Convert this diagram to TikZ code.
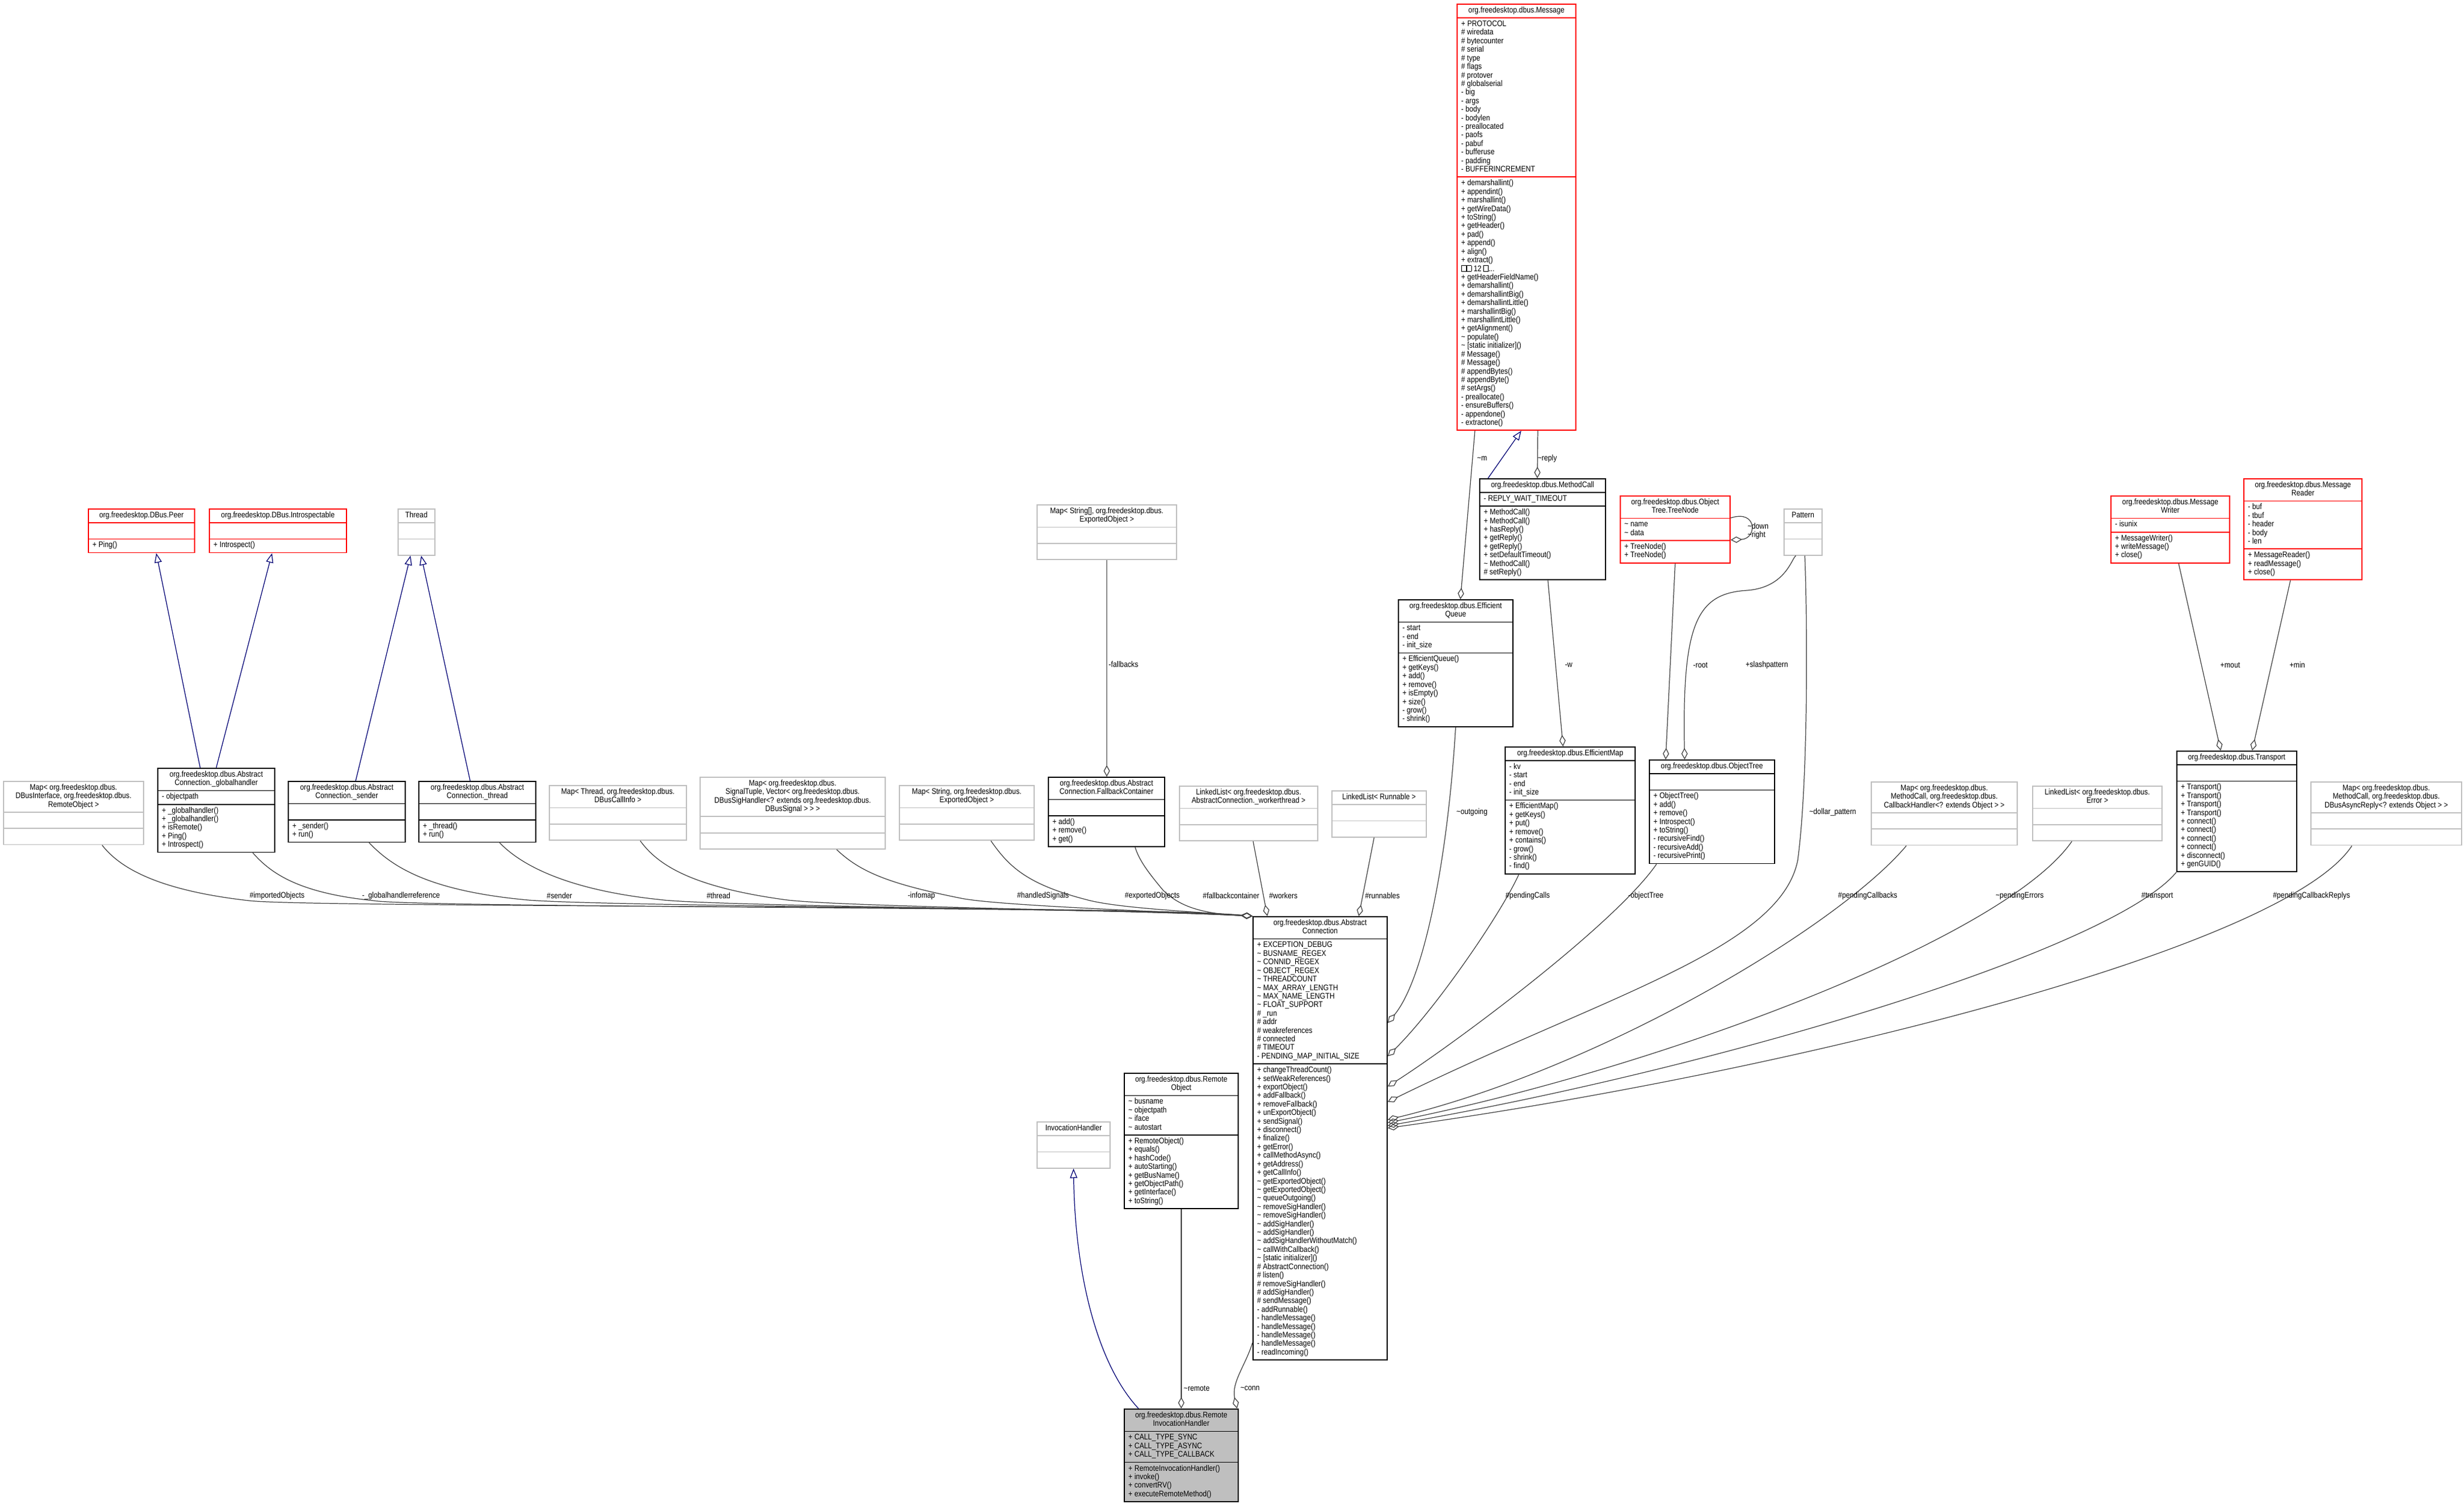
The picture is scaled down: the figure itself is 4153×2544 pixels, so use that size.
\documentclass[tikz,border=0pt]{standalone}
\usepackage{fontspec}
\setmainfont[FakeStretch=0.86]{Liberation Sans}
\usetikzlibrary{shapes.multipart,arrows.meta}

\newcommand{\ctab}[1]{\begin{tabular}{@{}c@{}}#1\end{tabular}}
\newcommand{\ltab}[1]{\begin{tabular}{@{}l@{}}#1\end{tabular}}
\newcommand{\tld}{\textasciitilde}
\newcommand{\gly}{{\fboxsep=0pt\fboxrule=0.15pt\fbox{\phantom{\rule{2.2pt}{2.6pt}}}}}

\tikzstyle{bS}=[rectangle split, rectangle split parts=3, rectangle split part align={center,left,left},
  rectangle split empty part height=0.13cm, anchor=north west, inner xsep=0.07cm, inner ysep=0.035cm,
  line width=0.5pt, font=\fontsize{3.9}{4.1}\selectfont]
\tikzstyle{cS}=[bS,draw=black]
\tikzstyle{xS}=[bS,draw=black!25]
\tikzstyle{rS}=[bS,draw=red]
\tikzstyle{hS}=[bS,draw=black,fill=black!25]
\tikzstyle{aS}=[line width=0.35pt,draw=black!75,{Diamond[open,length=5.5pt,width=3pt]}-]
\tikzstyle{iS}=[line width=0.35pt,draw=blue!45!black,-{Triangle[open,length=4.5pt,width=3.5pt]}]
\tikzstyle{lS}=[inner sep=0pt,font=\fontsize{3.9}{4.1}\selectfont]

\begin{document}
\begin{tikzpicture}[x=0.01cm,y=-0.01cm]
\useasboundingbox (0,0) rectangle (4153,2544);
% classes
\node[rS,minimum width=2.00cm] (msg) at (2455,6) {\ctab{org.freedesktop.dbus.Message}\nodepart{two}\ltab{+ PROTOCOL\\\# wiredata\\\# bytecounter\\\# serial\\\# type\\\# flags\\\# protover\\\# globalserial\\- big\\- args\\- body\\- bodylen\\- preallocated\\- paofs\\- pabuf\\- bufferuse\\- padding\\- BUFFERINCREMENT}\nodepart{three}\ltab{+ demarshallint()\\+ appendint()\\+ marshallint()\\+ getWireData()\\+ toString()\\+ getHeader()\\+ pad()\\+ append()\\+ align()\\+ extract()\\\gly\gly{} 12 \gly...\\+ getHeaderFieldName()\\+ demarshallint()\\+ demarshallintBig()\\+ demarshallintLittle()\\+ marshallintBig()\\+ marshallintLittle()\\+ getAlignment()\\\tld{} populate()\\\tld{} [static initializer]()\\\# Message()\\\# Message()\\\# appendBytes()\\\# appendByte()\\\# setArgs()\\- preallocate()\\- ensureBuffers()\\- appendone()\\- extractone()}};
\node[cS,minimum width=2.12cm] (mcall) at (2493,806) {\ctab{org.freedesktop.dbus.MethodCall}\nodepart{two}\ltab{- REPLY\_WAIT\_TIMEOUT}\nodepart{three}\ltab{+ MethodCall()\\+ MethodCall()\\+ hasReply()\\+ getReply()\\+ getReply()\\+ setDefaultTimeout()\\\tld{} MethodCall()\\\# setReply()}};
\node[rS,minimum width=1.85cm] (tnode) at (2730,835) {\ctab{org.freedesktop.dbus.Object\\Tree.TreeNode}\nodepart{two}\ltab{\tld{} name\\\tld{} data}\nodepart{three}\ltab{+ TreeNode()\\+ TreeNode()}};
\node[xS,minimum width=0.64cm] (pattern) at (3006,857) {\ctab{Pattern}\nodepart{two}\nodepart{three}};
\node[rS,minimum width=2.00cm] (mwriter) at (3557,835) {\ctab{org.freedesktop.dbus.Message\\Writer}\nodepart{two}\ltab{- isunix}\nodepart{three}\ltab{+ MessageWriter()\\+ writeMessage()\\+ close()}};
\node[rS,minimum width=1.99cm] (mreader) at (3781,806) {\ctab{org.freedesktop.dbus.Message\\Reader}\nodepart{two}\ltab{- buf\\- tbuf\\- header\\- body\\- len}\nodepart{three}\ltab{+ MessageReader()\\+ readMessage()\\+ close()}};
\node[cS,minimum width=1.93cm] (equeue) at (2356,1010) {\ctab{org.freedesktop.dbus.Efficient\\Queue}\nodepart{two}\ltab{- start\\- end\\- init\_size}\nodepart{three}\ltab{+ EfficientQueue()\\+ getKeys()\\+ add()\\+ remove()\\+ isEmpty()\\+ size()\\- grow()\\- shrink()}};
\node[cS,minimum width=2.19cm] (emap) at (2536,1258) {\ctab{org.freedesktop.dbus.EfficientMap}\nodepart{two}\ltab{- kv\\- start\\- end\\- init\_size}\nodepart{three}\ltab{+ EfficientMap()\\+ getKeys()\\+ put()\\+ remove()\\+ contains()\\- grow()\\- shrink()\\- find()}};
\node[cS,minimum width=2.11cm] (otree) at (2779,1280) {\ctab{org.freedesktop.dbus.ObjectTree}\nodepart{two}\nodepart{three}\ltab{+ ObjectTree()\\+ add()\\+ remove()\\+ Introspect()\\+ toString()\\- recursiveFind()\\- recursiveAdd()\\- recursivePrint()}};
\node[cS,minimum width=2.02cm] (transport) at (3668,1265) {\ctab{org.freedesktop.dbus.Transport}\nodepart{two}\nodepart{three}\ltab{+ Transport()\\+ Transport()\\+ Transport()\\+ Transport()\\+ connect()\\+ connect()\\+ connect()\\+ connect()\\+ disconnect()\\+ genGUID()}};
\node[xS,minimum width=2.46cm] (mapcb) at (3153,1317) {\ctab{Map< org.freedesktop.dbus.\\MethodCall, org.freedesktop.dbus.\\CallbackHandler<? extends Object > >}\nodepart{two}\nodepart{three}};
\node[xS,minimum width=2.18cm] (errlist) at (3425,1324) {\ctab{LinkedList< org.freedesktop.dbus.\\Error >}\nodepart{two}\nodepart{three}};
\node[xS,minimum width=2.54cm] (mapasync) at (3894,1317) {\ctab{Map< org.freedesktop.dbus.\\MethodCall, org.freedesktop.dbus.\\DBusAsyncReply<? extends Object > >}\nodepart{two}\nodepart{three}};
\node[rS,minimum width=1.79cm] (peer) at (148,857) {\ctab{org.freedesktop.DBus.Peer}\nodepart{two}\nodepart{three}\ltab{+ Ping()}};
\node[rS,minimum width=2.31cm] (intro) at (352,857) {\ctab{org.freedesktop.DBus.Introspectable}\nodepart{two}\nodepart{three}\ltab{+ Introspect()}};
\node[xS,minimum width=0.62cm] (thread) at (670,857) {\ctab{Thread}\nodepart{two}\nodepart{three}};
\node[xS,minimum width=2.36cm] (mapimp) at (5,1316) {\ctab{Map< org.freedesktop.dbus.\\DBusInterface, org.freedesktop.dbus.\\RemoteObject >}\nodepart{two}\nodepart{three}};
\node[cS,minimum width=1.97cm] (ghandler) at (265,1294) {\ctab{org.freedesktop.dbus.Abstract\\Connection.\_globalhandler}\nodepart{two}\ltab{- objectpath}\nodepart{three}\ltab{+ \_globalhandler()\\+ \_globalhandler()\\+ isRemote()\\+ Ping()\\+ Introspect()}};
\node[cS,minimum width=1.97cm] (sender) at (485,1316) {\ctab{org.freedesktop.dbus.Abstract\\Connection.\_sender}\nodepart{two}\nodepart{three}\ltab{+ \_sender()\\+ run()}};
\node[cS,minimum width=1.97cm] (thr) at (705,1316) {\ctab{org.freedesktop.dbus.Abstract\\Connection.\_thread}\nodepart{two}\nodepart{three}\ltab{+ \_thread()\\+ run()}};
\node[xS,minimum width=2.31cm] (mapthread) at (925,1323) {\ctab{Map< Thread, org.freedesktop.dbus.\\DBusCallInfo >}\nodepart{two}\nodepart{three}};
\node[xS,minimum width=3.12cm] (mapsig) at (1179,1309) {\ctab{Map< org.freedesktop.dbus.\\SignalTuple, Vector< org.freedesktop.dbus.\\DBusSigHandler<? extends org.freedesktop.dbus.\\DBusSignal > > >}\nodepart{two}\nodepart{three}};
\node[xS,minimum width=2.27cm] (mapstr) at (1515,1323) {\ctab{Map< String, org.freedesktop.dbus.\\ExportedObject >}\nodepart{two}\nodepart{three}};
\node[xS,minimum width=2.35cm] (mapfb) at (1747,850) {\ctab{Map< String[], org.freedesktop.dbus.\\ExportedObject >}\nodepart{two}\nodepart{three}};
\node[cS,minimum width=1.96cm] (fbcont) at (1766,1309) {\ctab{org.freedesktop.dbus.Abstract\\Connection.FallbackContainer}\nodepart{two}\nodepart{three}\ltab{+ add()\\+ remove()\\+ get()}};
\node[xS,minimum width=2.33cm] (wlist) at (1987,1324) {\ctab{LinkedList< org.freedesktop.dbus.\\AbstractConnection.\_workerthread >}\nodepart{two}\nodepart{three}};
\node[xS,minimum width=1.59cm] (rlist) at (2244,1332) {\ctab{LinkedList< Runnable >}\nodepart{two}\nodepart{three}};
\node[cS,minimum width=2.26cm] (ac) at (2111,1544) {\ctab{org.freedesktop.dbus.Abstract\\Connection}\nodepart{two}\ltab{+ EXCEPTION\_DEBUG\\\tld{} BUSNAME\_REGEX\\\tld{} CONNID\_REGEX\\\tld{} OBJECT\_REGEX\\\tld{} THREADCOUNT\\\tld{} MAX\_ARRAY\_LENGTH\\\tld{} MAX\_NAME\_LENGTH\\\tld{} FLOAT\_SUPPORT\\\# \_run\\\# addr\\\# weakreferences\\\# connected\\\# TIMEOUT\\- PENDING\_MAP\_INITIAL\_SIZE}\nodepart{three}\ltab{+ changeThreadCount()\\+ setWeakReferences()\\+ exportObject()\\+ addFallback()\\+ removeFallback()\\+ unExportObject()\\+ sendSignal()\\+ disconnect()\\+ finalize()\\+ getError()\\+ callMethodAsync()\\+ getAddress()\\+ getCallInfo()\\\tld{} getExportedObject()\\\tld{} getExportedObject()\\\tld{} queueOutgoing()\\\tld{} removeSigHandler()\\\tld{} removeSigHandler()\\\tld{} addSigHandler()\\\tld{} addSigHandler()\\\tld{} addSigHandlerWithoutMatch()\\\tld{} callWithCallback()\\\tld{} [static initializer]()\\\# AbstractConnection()\\\# listen()\\\# removeSigHandler()\\\# addSigHandler()\\\# sendMessage()\\- addRunnable()\\- handleMessage()\\- handleMessage()\\- handleMessage()\\- handleMessage()\\- readIncoming()}};
\node[xS,minimum width=1.23cm] (invh) at (1747,1890) {\ctab{InvocationHandler}\nodepart{two}\nodepart{three}};
\node[cS,minimum width=1.92cm] (robj) at (1894,1808) {\ctab{org.freedesktop.dbus.Remote\\Object}\nodepart{two}\ltab{\tld{} busname\\\tld{} objectpath\\\tld{} iface\\\tld{} autostart}\nodepart{three}\ltab{+ RemoteObject()\\+ equals()\\+ hashCode()\\+ autoStarting()\\+ getBusName()\\+ getObjectPath()\\+ getInterface()\\+ toString()}};
\node[hS,minimum width=1.92cm] (rih) at (1894,2374) {\ctab{org.freedesktop.dbus.Remote\\InvocationHandler}\nodepart{two}\ltab{+ CALL\_TYPE\_SYNC\\+ CALL\_TYPE\_ASYNC\\+ CALL\_TYPE\_CALLBACK}\nodepart{three}\ltab{+ RemoteInvocationHandler()\\+ invoke()\\+ convertRV()\\+ executeRemoteMethod()}};

% inheritance
\draw[iS] ([xshift=-0.27cm]ghandler.north) -- ([xshift=0.25cm]peer.south);
\draw[iS] ([xshift=0cm]ghandler.north) -- ([xshift=-0.1cm]intro.south);
\draw[iS] ([xshift=0.15cm]sender.north) -- ([xshift=-0.1cm]thread.south);
\draw[iS] ([xshift=-0.12cm]thr.north) -- ([xshift=0.08cm]thread.south);
\draw[iS] ([xshift=0.15cm]mcall.north west) -- ([xshift=0.08cm]msg.south);
\draw[iS] ([xshift=-0.72cm]rih.north) .. controls (1850,2300) and (1812,2150) .. (invh.south);

% aggregation, upper part
\draw[aS] ([xshift=0.98cm]mcall.north west) -- ([xshift=0.36cm]msg.south);
\draw[aS] ([xshift=0.08cm]equeue.north) -- ([xshift=-0.7cm]msg.south);
\draw[aS] ([xshift=-0.12cm]emap.north) -- ([xshift=0.09cm]mcall.south);
\draw[aS] ([xshift=-0.78cm]otree.north) -- (tnode.south);
\draw[aS] ([xshift=-0.46cm]otree.north) .. controls (2835,1050) and (2860,1000) .. (2945,995) .. controls (3010,990) and (3020,940) .. ([xshift=-0.12cm]pattern.south);
\draw[aS] ([yshift=-0.75cm]tnode.north east) .. controls (2962,908) and (2962,858) .. ([yshift=-0.38cm]tnode.north east);
\draw[aS] ([xshift=-0.27cm]transport.north) -- ([xshift=0.14cm]mwriter.south);
\draw[aS] ([xshift=0.26cm]transport.north) -- ([xshift=-0.21cm]mreader.south);
\draw[aS] (fbcont.north -| mapfb.south) -- (mapfb.south);
\draw[aS] ([xshift=0.94cm]rih.north) .. controls (2075,2330) and (2100,2300) .. ([yshift=0.3cm]ac.south west);
\draw[aS] (rih.north) -- (robj.south);

% aggregation into AbstractConnection, left
\draw[aS] (ac.north west) .. controls (1900,1525) and (520,1530) .. (420,1518) .. controls (260,1500) and (200,1460) .. ([xshift=1.67cm]mapimp.south west);
\draw[aS] (ac.north west) .. controls (1900,1528) and (700,1530) .. (630,1518) .. controls (500,1505) and (455,1470) .. ([xshift=1.61cm]ghandler.south west);
\draw[aS] (ac.north west) .. controls (1900,1530) and (980,1528) .. (880,1516) .. controls (720,1500) and (660,1460) .. ([xshift=1.37cm]sender.south west);
\draw[aS] (ac.north west) .. controls (1900,1532) and (1200,1528) .. (1110,1516) .. controls (960,1500) and (880,1460) .. ([xshift=1.37cm]thr.south west);
\draw[aS] (ac.north west) .. controls (1900,1534) and (1400,1528) .. (1320,1516) .. controls (1170,1495) and (1110,1460) .. ([xshift=1.54cm]mapthread.south west);
\draw[aS] (ac.north west) .. controls (1950,1536) and (1680,1526) .. (1620,1514) .. controls (1500,1490) and (1450,1470) .. ([xshift=2.31cm]mapsig.south west);
\draw[aS] (ac.north west) .. controls (2000,1536) and (1880,1530) .. (1830,1516) .. controls (1730,1490) and (1700,1460) .. ([xshift=1.55cm]mapstr.south west);
\draw[aS] (ac.north west) .. controls (2030,1540) and (1990,1530) .. (1960,1500) .. controls (1935,1470) and (1920,1450) .. ([xshift=1.47cm]fbcont.south west);
\draw[aS] ([xshift=0.25cm]ac.north west) -- ([xshift=1.25cm]wlist.south west);
\draw[aS] ([xshift=1.79cm]ac.north west) -- ([xshift=0.72cm]rlist.south west);

% aggregation into AbstractConnection, right
\draw[aS] ([yshift=-1.80cm]ac.north east) .. controls (2400,1650) and (2440,1450) .. (equeue.south);
\draw[aS] ([yshift=-2.36cm]ac.north east) .. controls (2420,1700) and (2530,1540) .. ([xshift=0.24cm]emap.south west);
\draw[aS] ([yshift=-2.87cm]ac.north east) .. controls (2450,1760) and (2720,1560) .. ([xshift=0.13cm]otree.south west);
\draw[aS] ([yshift=-3.13cm]ac.north east) .. controls (2700,1680) and (3000,1600) .. (3030,1450) .. controls (3050,1300) and (3045,1000) .. ([xshift=0.03cm]pattern.south);
\draw[aS] ([yshift=-3.43cm]ac.north east) .. controls (2700,1800) and (3100,1560) .. ([xshift=0.6cm]mapcb.south west);
\draw[aS] ([yshift=-3.48cm]ac.north east) .. controls (2800,1800) and (3380,1580) .. ([xshift=0.67cm]errlist.south west);
\draw[aS] ([yshift=-3.53cm]ac.north east) .. controls (2900,1800) and (3560,1600) .. (transport.south west);
\draw[aS] ([yshift=-3.57cm]ac.north east) .. controls (3000,1810) and (3850,1600) .. ([xshift=0.7cm]mapasync.south west);

% labels
\node[lS] (l1) at (467,1510) {\#importedObjects};
\node[lS] (l2) at (676,1510) {-\_globalhandlerreference};
\node[lS] (l3) at (943,1510) {\#sender};
\node[lS] (l4) at (1211,1510) {\#thread};
\node[lS] (l5) at (1553,1510) {-infomap};
\node[lS] (l6) at (1758,1510) {\#handledSignals};
\node[lS] (l7) at (1942,1510) {\#exportedObjects};
\node[lS] (l8) at (2075,1510) {\#fallbackcontainer};
\node[lS] (l9) at (2163,1510) {\#workers};
\node[lS] (l10) at (2330,1510) {\#runnables};
\node[lS] (l11) at (2575,1510) {\#pendingCalls};
\node[lS] (l12) at (2774,1510) {-objectTree};
\node[lS] (l13) at (3148,1510) {\#pendingCallbacks};
\node[lS] (l14) at (3404,1510) {\tld{}pendingErrors};
\node[lS] (l15) at (3636,1510) {\#transport};
\node[lS] (l16) at (3896,1510) {\#pendingCallbackReplys};
\node[lS] (l17) at (2481,1369) {\tld{}outgoing};
\node[lS] (l18) at (3089,1369) {\tld{}dollar\_pattern};
\node[lS] (l19) at (2644,1121) {-w};
\node[lS] (l20) at (2866,1121) {-root};
\node[lS] (l21) at (2978,1121) {+slashpattern};
\node[lS] (l22) at (3759,1121) {+mout};
\node[lS] (l23) at (3872,1121) {+min};
\node[lS,anchor=west] (l24) at (1868,1120) {-fallbacks};
\node[lS] (l25) at (2498,773) {\tld{}m};
\node[lS] (l26) at (2608,773) {\tld{}reply};
\node[lS,align=left,anchor=west] (l27) at (2945,895) {\tld{}down\\\tld{}right};
\node[lS] (l28) at (2017,2340) {\tld{}remote};
\node[lS] (l29) at (2107,2340) {\tld{}conn};
\end{tikzpicture}
\end{document}
